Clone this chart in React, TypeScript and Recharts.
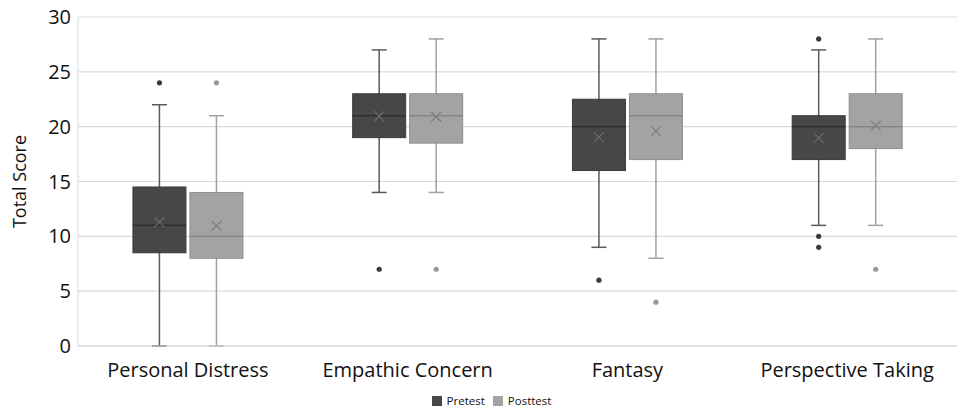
import { ComposedChart, Bar, XAxis, YAxis, CartesianGrid, Legend } from 'recharts'

// one entry per category
const categories = ['Personal Distress', 'Empathic Concern', 'Fantasy', 'Perspective Taking']

// [min, q1, median, q3, max]
const pretestBoxes = [
  [0, 8.5, 11, 14.5, 22],
  [14, 19, 21, 23, 27],
  [9, 16, 20, 22.5, 28],
  [11, 17, 20, 21, 27],
]
const pretestMeans = [11.3, 20.95, 19.05, 18.95]
const pretestOutliers = [[24], [7], [6], [28, 10, 9]]

const posttestBoxes = [
  [0, 8, 10, 14, 21],
  [14, 18.5, 21, 23, 28],
  [8, 17, 21, 23, 28],
  [11, 18, 20, 23, 28],
]
const posttestMeans = [10.95, 20.9, 19.6, 20.1]
const posttestOutliers = [[24], [7], [4], [7]]

const yTicks = [0, 5, 10, 15, 20, 25, 30]

const data = categories.map((name, i) => ({
  name,
  pre: { box: pretestBoxes[i], mean: pretestMeans[i], outliers: pretestOutliers[i] },
  post: { box: posttestBoxes[i], mean: posttestMeans[i], outliers: posttestOutliers[i] },
  preRange: [pretestBoxes[i][0], pretestBoxes[i][4]],
  postRange: [posttestBoxes[i][0], posttestBoxes[i][4]],
}))

const styles = {
  pre: { fill: '#474747', stroke: '#3a3a3a', whisker: '#5a5a5a', median: '#2e2e2e', mean: '#6a6a6a', dot: '#3a3a3a' },
  post: { fill: '#a3a3a3', stroke: '#8e8e8e', whisker: '#a0a0a0', median: '#858585', mean: '#7d7d7d', dot: '#999999' },
}

const makeBoxShape = (key: 'pre' | 'post') => (props: any) => {
  const { x, y, width, height, payload } = props
  const s = styles[key]
  const { box, mean, outliers } = payload[key]
  const [min, q1, med, q3, max] = box
  // the bar spans [min, max]; map any value into pixels the same way
  const py = (v: number) => y + (height * (max - v)) / (max - min)
  const cx = x + width / 2
  const cap = 7.5
  const m = 5
  return (
    <g>
      <line x1={cx} x2={cx} y1={py(max)} y2={py(min)} stroke={s.whisker} strokeWidth={1.5} />
      <line x1={cx - cap} x2={cx + cap} y1={py(max)} y2={py(max)} stroke={s.whisker} strokeWidth={1.5} />
      <line x1={cx - cap} x2={cx + cap} y1={py(min)} y2={py(min)} stroke={s.whisker} strokeWidth={1.5} />
      <rect x={x} y={py(q3)} width={width} height={py(q1) - py(q3)} fill={s.fill} stroke={s.stroke} strokeWidth={1} />
      <line x1={x} x2={x + width} y1={py(med)} y2={py(med)} stroke={s.median} strokeWidth={1.5} />
      <line x1={cx - m} x2={cx + m} y1={py(mean) - m} y2={py(mean) + m} stroke={s.mean} strokeWidth={1.2} />
      <line x1={cx - m} x2={cx + m} y1={py(mean) + m} y2={py(mean) - m} stroke={s.mean} strokeWidth={1.2} />
      {outliers.map((o: number, i: number) => (
        <circle key={i} cx={cx} cy={py(o)} r={2.6} fill={s.dot} />
      ))}
    </g>
  )
}

const legendItems = [
  { label: 'Pretest', color: styles.pre.fill },
  { label: 'Posttest', color: styles.post.fill },
]

const LegendContent = () => (
  <div style={{ display: 'flex', justifyContent: 'center', alignItems: 'center', gap: 8, fontSize: 11.5, color: '#111', paddingTop: 7, paddingLeft: 26 }}>
    {legendItems.map((it) => (
      <span key={it.label} style={{ display: 'flex', alignItems: 'center', gap: 5 }}>
        <span style={{ width: 10, height: 10, background: it.color, display: 'inline-block' }} />
        {it.label}
      </span>
    ))}
  </div>
)

export default function App() {
  return (
    <div style={{ position: 'absolute', left: 0, top: 0, background: '#fff', fontFamily: '"Open Sans", sans-serif' }}>
      <ComposedChart
        width={959}
        height={410}
        data={data}
        margin={{ top: 17, right: 2, left: 0, bottom: 0 }}
        barCategoryGap="25%"
        barGap={4}
      >
        <CartesianGrid vertical={false} stroke="#d9d9d9" strokeWidth={1.2} />
        <XAxis
          dataKey="name"
          stroke="#d9d9d9"
          tickLine={false}
          tick={{ fill: '#111', fontSize: 20 }}
          tickMargin={11}
          height={40}
        />
        <YAxis
          domain={[0, 30]}
          ticks={yTicks}
          width={78}
          stroke="#d9d9d9"
          tickLine={false}
          tickSize={0}
          tickMargin={7}
          tick={{ fill: '#111', fontSize: 20 }}
          label={{ value: 'Total Score', angle: -90, position: 'insideLeft', offset: 20, style: { fill: '#111', fontSize: 18, textAnchor: 'middle' } }}
        />
        <Legend verticalAlign="bottom" height={24} content={<LegendContent />} />
        <Bar dataKey="preRange" name="Pretest" fill={styles.pre.fill} shape={makeBoxShape('pre')} isAnimationActive={false} />
        <Bar dataKey="postRange" name="Posttest" fill={styles.post.fill} shape={makeBoxShape('post')} isAnimationActive={false} />
      </ComposedChart>
    </div>
  )
}
